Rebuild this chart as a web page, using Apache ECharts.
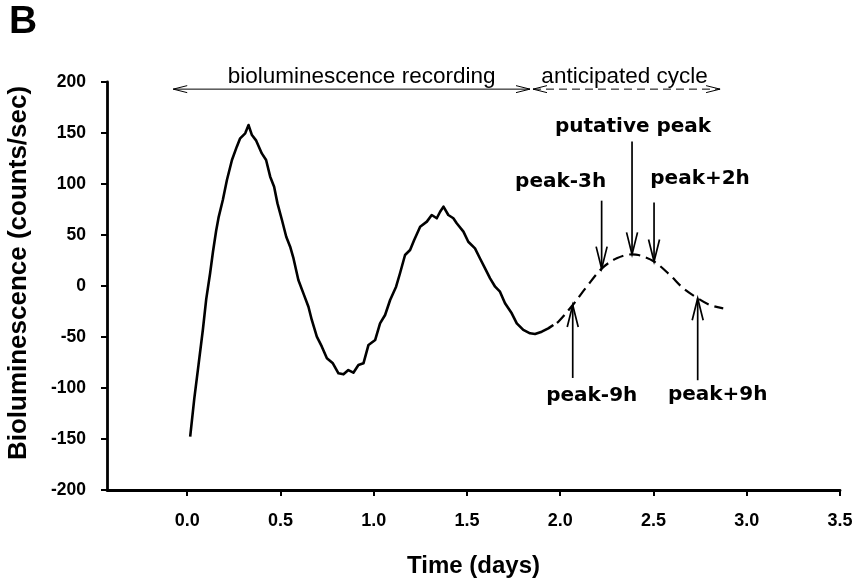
<!DOCTYPE html>
<html>
<head>
<meta charset="utf-8">
<script src="https://cdn.jsdelivr.net/npm/echarts@6/dist/echarts.min.js"></script>
<style>
  html, body { margin: 0; padding: 0; background: #fff; }
  #chart { width: 853px; height: 582px; }
</style>
</head>
<body>
<div id="chart"></div>
<script>
// Time axis ticks (days)
const dayTicks = [0, 0.5, 1, 1.5, 2, 2.5, 3, 3.5];

// Recorded bioluminescence trace (days, counts/sec)
const recordedTime = [
  0.016, 0.038, 0.061, 0.084, 0.102, 0.123, 0.138, 0.155, 0.168, 0.191,
  0.213, 0.240, 0.266, 0.284, 0.311, 0.329, 0.347, 0.370, 0.400, 0.423,
  0.445, 0.466, 0.484, 0.508, 0.531, 0.552, 0.570, 0.596, 0.623, 0.650,
  0.668, 0.695, 0.722, 0.749, 0.781, 0.811, 0.838, 0.864, 0.891, 0.918,
  0.945, 0.972, 1.008, 1.034, 1.061, 1.088, 1.120, 1.141, 1.168, 1.195,
  1.217, 1.249, 1.285, 1.311, 1.338, 1.356, 1.374, 1.400, 1.427, 1.445,
  1.481, 1.507, 1.543, 1.570, 1.597, 1.624, 1.651, 1.677, 1.704, 1.740,
  1.767, 1.802, 1.838, 1.865, 1.901, 1.936, 1.963
];
const recordedSignal = [
  -147.7, -110.5, -76.8, -42.9, -12.9, 12.7, 33.3, 53.9, 67.0, 84.3,
  103.9, 123.5, 136.6, 144.8, 149.7, 157.8, 148.0, 142.5, 130.0, 123.5,
  107.2, 97.4, 81.0, 64.7, 48.3, 38.5, 27.0, 5.9, -7.2, -20.3,
  -33.3, -49.7, -59.5, -70.9, -75.8, -85.6, -86.6, -82.4, -85.0, -77.5,
  -75.8, -57.8, -52.9, -36.6, -28.4, -13.7, -0.7, 12.5, 30.4, 35.3,
  45.1, 58.1, 63.1, 69.6, 66.4, 72.8, 77.8, 69.6, 66.4, 61.5,
  53.3, 43.4, 36.9, 27.0, 17.3, 7.5, -0.7, -5.6, -17.0, -26.8,
  -36.6, -43.1, -46.4, -47.1, -44.8, -41.5, -38.2
];

// Anticipated next cycle (days, counts/sec)
const projectedTime = [1.963, 1.990, 2.067, 2.142, 2.222, 2.303, 2.385, 2.419, 2.503, 2.588, 2.660, 2.737, 2.803, 2.874];
const projectedSignal = [-38.2, -35.0, -18.6, -0.7, 17.0, 27.2, 31.0, 30.4, 24.0, 10.8, -2.3, -12.0, -18.6, -21.9];

// Sampling phases marked on the anticipated cycle
const phaseNames = ['putative peak', 'peak-3h', 'peak+2h', 'peak-9h', 'peak+9h'];
const phaseTime = [2.385, 2.222, 2.503, 2.067, 2.737];
const phaseSignal = [31.0, 17.0, 24.0, -18.6, -12.0];

// Spans shown above the plot
const spanNames = ['bioluminescence recording', 'anticipated cycle'];
const spanFrom = [-0.075, 1.854];
const spanTo = [1.838, 2.857];
const spanLevel = [193, 193];

// Arrow geometry for each phase marker: side -1 = tail above tip, +1 = tail below
const phaseLayout = [
  { side: -1, len: 113, dx: 1, dy: -128 },
  { side: -1, len: 68, dx: -41, dy: -87 },
  { side: -1, len: 59, dx: 46, dy: -83 },
  { side: 1, len: 73, dx: 19, dy: 91 },
  { side: 1, len: 82, dx: 20, dy: 97 }
];
const spanLayout = [
  { dashed: false, dx: 10 },
  { dashed: true, dx: -2 }
];

const chart = echarts.init(document.getElementById('chart'), null, { renderer: 'canvas' });

const axisFont = 'Liberation Sans, Arial, sans-serif';

function openHead(x, y, dirX, dirY, len, half) {
  // chevron whose point sits at (x, y), opening back along (-dirX, -dirY)
  const bx = x - dirX * len, by = y - dirY * len;
  const px = -dirY * half, py = dirX * half;
  return [[bx + px, by + py], [x, y], [bx - px, by - py]];
}

const option = {
  animation: false,
  backgroundColor: '#ffffff',
  grid: { left: 107, right: 13, top: 82, bottom: 92, containLabel: false, outerBoundsMode: 'none' },
  graphic: [
    {
      type: 'text', left: 9, top: 3,
      style: { text: 'B', font: 'bold 39px ' + axisFont, fill: '#000' }
    }
  ],
  xAxis: {
    type: 'value',
    min: -0.43, max: 3.5,
    name: 'Time (days)',
    nameLocation: 'middle',
    nameGap: 64,
    nameTextStyle: { fontFamily: axisFont, fontWeight: 'bold', fontSize: 24, color: '#000' },
    axisLine: { onZero: false, lineStyle: { color: '#000', width: 2.8 } },
    axisTick: { show: true, inside: false, length: 6, lineStyle: { color: '#000', width: 2 }, customValues: dayTicks },
    axisLabel: {
      customValues: dayTicks,
      margin: 22,
      fontFamily: axisFont, fontWeight: 'bold', fontSize: 18, color: '#000',
      formatter: v => v.toFixed(1)
    },
    splitLine: { show: false }
  },
  yAxis: {
    type: 'value',
    min: -200, max: 200, interval: 50,
    name: 'Bioluminescence (counts/sec)',
    nameLocation: 'middle',
    nameGap: 75,
    nameTextStyle: { fontFamily: axisFont, fontWeight: 'bold', fontSize: 26, color: '#000', padding: [0, 0, 0, 26] },
    axisLine: { onZero: false, lineStyle: { color: '#000', width: 2.8 } },
    axisTick: { show: true, inside: false, length: 6, lineStyle: { color: '#000', width: 2 } },
    axisLabel: { margin: 21, fontFamily: axisFont, fontWeight: 'bold', fontSize: 17.5, color: '#000' },
    splitLine: { show: false }
  },
  series: [
    {
      name: 'recorded',
      type: 'line',
      data: recordedTime.map((t, i) => [t, recordedSignal[i]]),
      showSymbol: false,
      lineStyle: { color: '#000', width: 2.6, join: 'round' },
      z: 3
    },
    {
      name: 'anticipated',
      type: 'line',
      data: projectedTime.map((t, i) => [t, projectedSignal[i]]),
      showSymbol: false,
      smooth: 0.35,
      lineStyle: { color: '#000', width: 2.2, type: [11, 6], dashOffset: -4 },
      z: 3
    },
    {
      name: 'phases',
      type: 'custom',
      data: phaseTime.map((t, i) => [t, phaseSignal[i]]),
      encode: { x: 0, y: 1 },
      clip: false,
      z: 5,
      renderItem: (params, api) => {
        const i = params.dataIndex;
        const L = phaseLayout[i];
        const tip = api.coord([api.value(0), api.value(1)]);
        const tailY = tip[1] + L.side * L.len;
        const head = openHead(tip[0], tip[1], 0, -L.side, 22, 5.5);
        return {
          type: 'group',
          children: [
            { type: 'line', shape: { x1: tip[0], y1: tailY, x2: tip[0], y2: tip[1] },
              style: { stroke: '#000', lineWidth: 1.7 } },
            { type: 'polyline', shape: { points: head },
              style: { stroke: '#000', lineWidth: 1.7, fill: null } },
            { type: 'text',
              style: { text: phaseNames[i], x: tip[0] + L.dx, y: tip[1] + L.dy,
                align: 'center', verticalAlign: 'middle',
                font: 'bold 20px "DejaVu Sans", sans-serif', fill: '#000' } }
          ]
        };
      }
    },
    {
      name: 'spans',
      type: 'custom',
      data: spanFrom.map((a, i) => [a, spanTo[i], spanLevel[i]]),
      encode: { x: [0, 1], y: 2 },
      clip: false,
      z: 5,
      renderItem: (params, api) => {
        const i = params.dataIndex;
        const L = spanLayout[i];
        const p0 = api.coord([api.value(0), api.value(2)]);
        const p1 = api.coord([api.value(1), api.value(2)]);
        const st = { stroke: '#000', lineWidth: 1, fill: null };
        return {
          type: 'group',
          children: [
            { type: 'line', shape: { x1: p0[0], y1: p0[1], x2: p1[0], y2: p1[1] },
              style: Object.assign({}, st, L.dashed ? { lineDash: [8, 5] } : {}) },
            { type: 'polyline', shape: { points: openHead(p0[0], p0[1], -1, 0, 14, 3.5) }, style: st },
            { type: 'polyline', shape: { points: openHead(p1[0], p1[1], 1, 0, 14, 3.5) }, style: st },
            { type: 'text',
              style: { text: spanNames[i], x: (p0[0] + p1[0]) / 2 + L.dx, y: p0[1] - 1,
                align: 'center', verticalAlign: 'bottom',
                font: '22.5px ' + axisFont, fill: '#000' } }
          ]
        };
      }
    }
  ]
};

chart.setOption(option);
</script>
</body>
</html>
